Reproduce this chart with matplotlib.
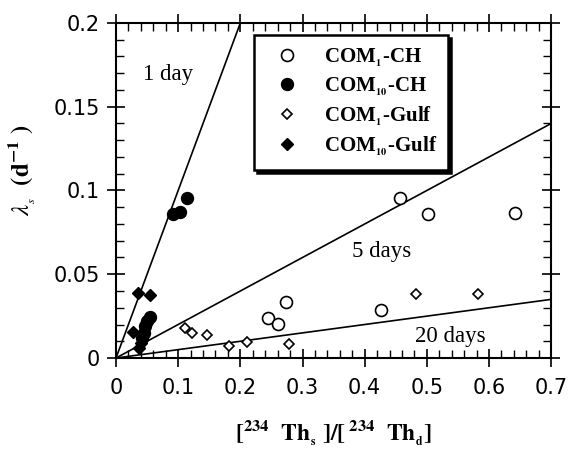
import numpy as np
import matplotlib
matplotlib.use("Agg")
import matplotlib.pyplot as plt
from matplotlib.ticker import MultipleLocator

plt.rcParams['mathtext.fontset'] = 'stix'

# data
com1_ch_x = [0.244, 0.260, 0.274, 0.427, 0.457, 0.502, 0.642]
com1_ch_y = [0.0237, 0.0201, 0.0336, 0.0287, 0.0957, 0.0858, 0.0864]
com10_ch_x = [0.092, 0.103, 0.114, 0.054, 0.050, 0.047, 0.045, 0.042]
com10_ch_y = [0.086, 0.087, 0.0953, 0.0245, 0.022, 0.019, 0.015, 0.012]
com1_gulf_x = [0.111, 0.122, 0.146, 0.182, 0.210, 0.278, 0.482, 0.582]
com1_gulf_y = [0.018, 0.0147, 0.014, 0.0074, 0.0093, 0.0085, 0.038, 0.038]
com10_gulf_x = [0.036, 0.055, 0.028, 0.040, 0.037]
com10_gulf_y = [0.0386, 0.0376, 0.0157, 0.009, 0.006]
residence_days = [1, 5, 20]
line_labels = ['1 day', '5 days', '20 days']
label_pos = [(0.083, 0.169), (0.428, 0.0636), (0.537, 0.0131)]
xtick_vals = [0, 0.1, 0.2, 0.3, 0.4, 0.5, 0.6, 0.7]
xtick_labels = ['0', '0.1', '0.2', '0.3', '0.4', '0.5', '0.6', '0.7']
ytick_vals = [0, 0.05, 0.1, 0.15, 0.2]
ytick_labels = ['0', '0.05', '0.1', '0.15', '0.2']

fig = plt.figure(figsize=(5.7, 4.5), dpi=100)
ax = fig.add_axes([0.2035, 0.2044, 0.7635, 0.7446])

xx = np.linspace(0, 0.7, 200)
for d in residence_days:
    ax.plot(xx, xx / d, color='black', lw=1.2, zorder=2)

ax.plot(com1_ch_x, com1_ch_y, 'o', mfc='white', mec='black', mew=1.2, ms=8.6,
        ls='none', label=r'COM$_{\mathbf{_1}}$-CH', zorder=3)
ax.plot(com10_ch_x, com10_ch_y, 'o', mfc='black', mec='black', ms=8.6,
        ls='none', label=r'COM$_{\mathbf{_{10}}}$-CH', zorder=3)
ax.plot(com1_gulf_x, com1_gulf_y, 'D', mfc='white', mec='black', mew=1.2, ms=5.5,
        ls='none', label=r'COM$_{\mathbf{_1}}$-Gulf', zorder=3)
ax.plot(com10_gulf_x, com10_gulf_y, 'D', mfc='black', mec='black', ms=6.5,
        ls='none', label=r'COM$_{\mathbf{_{10}}}$-Gulf', zorder=3)

for lab, (lx, ly) in zip(line_labels, label_pos):
    ax.text(lx, ly, lab, family='Liberation Serif', fontsize=16.5,
            ha='center', va='center')

ax.set_xlim(0, 0.7)
ax.set_ylim(0, 0.2)
ax.xaxis.set_minor_locator(MultipleLocator(0.02))
ax.yaxis.set_minor_locator(MultipleLocator(0.01))
ax.set_xticks(xtick_vals)
ax.set_xticklabels(xtick_labels)
ax.set_yticks(ytick_vals)
ax.set_yticklabels(ytick_labels)
ax.tick_params(which='major', direction='inout', length=13, width=1.2,
               top=True, right=True, labelsize=15)
ax.tick_params(axis='x', which='major', pad=8)
ax.tick_params(axis='y', which='major', pad=5)
ax.tick_params(which='minor', direction='in', length=6, width=1.0,
               top=True, right=True)
for lab in ax.get_xticklabels() + ax.get_yticklabels():
    lab.set_family('DejaVu Sans')
for s in ax.spines.values():
    s.set_linewidth(1.5)

ax.set_xlabel(r'$\mathbf{[^{234}\ \ Th_{_s}\ ]/[^{\ 234}\ \ Th_{_d}]}$',
              fontsize=17)
ax.xaxis.set_label_coords(0.5, -0.18)
ax.set_ylabel(r'$\lambda_{_s}\ \ \mathbf{(d^{-1}\ )}$', fontsize=18)
ax.yaxis.set_label_coords(-0.18, 0.56)

leg = ax.legend(loc='upper left', bbox_to_anchor=(0.317, 0.964),
                borderaxespad=0, frameon=True, fancybox=False,
                shadow={'color': 'black', 'alpha': 1.0},
                prop={'family': 'Liberation Serif', 'weight': 'bold', 'size': 15},
                handletextpad=0.7, labelspacing=0.3, borderpad=0.55,
                handlelength=2.1)
leg.get_frame().set_edgecolor('black')
leg.get_frame().set_linewidth(1.8)
leg.get_frame().set_alpha(1)

fig.savefig('out.png', dpi=100)
